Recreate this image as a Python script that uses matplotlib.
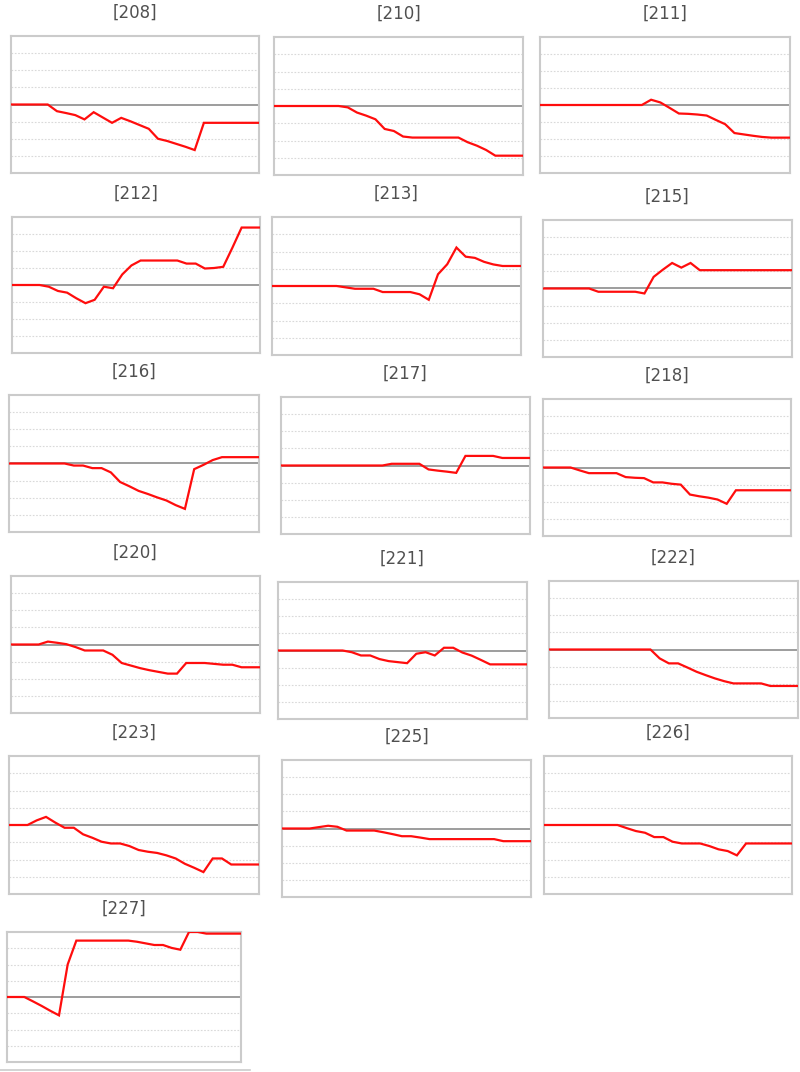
import matplotlib
matplotlib.use("Agg")
import matplotlib.pyplot as plt
from matplotlib.lines import Line2D

# ---------------- data ----------------
titles = ["[208]", "[210]", "[211]", "[212]", "[213]", "[215]", "[216]", "[217]",
          "[218]", "[220]", "[221]", "[222]", "[223]", "[225]", "[226]", "[227]"]

s208 = [0, 0, 0, 0, 0, -0.39, -0.5, -0.62, -0.87, -0.45, -0.76, -1.07, -0.78, -0.98,
        -1.2, -1.42, -2.0, -2.13, -2.3, -2.47, -2.66, -1.07, -1.07, -1.07, -1.07, -1.07, -1.07, -1.07]
s210 = [0, 0, 0, 0, 0, 0, 0, 0, -0.08, -0.38, -0.56, -0.77, -1.33, -1.45, -1.77, -1.83,
        -1.83, -1.83, -1.83, -1.83, -1.83, -2.1, -2.3, -2.55, -2.88, -2.88, -2.88, -2.88]
s211 = [0, 0, 0, 0, 0, 0, 0, 0, 0, 0, 0, 0, 0.31, 0.15, -0.17, -0.5, -0.52, -0.56,
        -0.62, -0.88, -1.13, -1.65, -1.73, -1.81, -1.88, -1.92, -1.92, -1.92]
s212 = [0, 0, 0, 0, -0.1, -0.35, -0.45, -0.78, -1.07, -0.87, -0.1, -0.19, 0.62, 1.15,
        1.44, 1.44, 1.44, 1.44, 1.44, 1.26, 1.26, 0.97, 1.0, 1.07, 2.2, 3.38, 3.38, 3.38]
s213 = [0, 0, 0, 0, 0, 0, 0, 0, -0.08, -0.16, -0.16, -0.16, -0.35, -0.35, -0.35, -0.35,
        -0.48, -0.8, 0.68, 1.26, 2.23, 1.7, 1.63, 1.4, 1.25, 1.16, 1.16, 1.16]
s215 = [0, 0, 0, 0, 0, 0, -0.19, -0.19, -0.19, -0.19, -0.19, -0.29, 0.68, 1.1, 1.49,
        1.22, 1.49, 1.07, 1.07, 1.07, 1.07, 1.07, 1.07, 1.07, 1.07, 1.07, 1.07, 1.07]
s216 = [0, 0, 0, 0, 0, 0, 0, -0.12, -0.12, -0.27, -0.27, -0.52, -1.08, -1.33, -1.6,
        -1.78, -1.98, -2.16, -2.43, -2.65, -0.33, -0.08, 0.2, 0.37, 0.37, 0.37, 0.37, 0.37]
s217 = [0, 0, 0, 0, 0, 0, 0, 0, 0, 0, 0, 0, 0.1, 0.1, 0.1, 0.1, -0.23, -0.3, -0.36,
        -0.43, 0.56, 0.56, 0.56, 0.56, 0.44, 0.44, 0.44, 0.44]
s218 = [0, 0, 0, 0, -0.17, -0.33, -0.33, -0.33, -0.33, -0.56, -0.6, -0.62, -0.87, -0.87,
        -0.95, -1.0, -1.58, -1.68, -1.76, -1.87, -2.12, -1.33, -1.33, -1.33, -1.33, -1.33, -1.33, -1.33]
s220 = [0, 0, 0, 0, 0.17, 0.1, 0.02, -0.15, -0.35, -0.35, -0.35, -0.6, -1.08, -1.23,
        -1.38, -1.5, -1.6, -1.7, -1.7, -1.08, -1.08, -1.08, -1.13, -1.18, -1.18, -1.33, -1.33, -1.33]
s221 = [0, 0, 0, 0, 0, 0, 0, 0, -0.1, -0.29, -0.29, -0.5, -0.62, -0.68, -0.74, -0.19,
        -0.1, -0.29, 0.16, 0.16, -0.12, -0.3, -0.55, -0.81, -0.81, -0.81, -0.81, -0.81]
s222 = [0, 0, 0, 0, 0, 0, 0, 0, 0, 0, 0, 0, -0.52, -0.81, -0.81, -1.05, -1.3, -1.5,
        -1.69, -1.85, -1.98, -1.98, -1.98, -1.98, -2.13, -2.13, -2.13, -2.13]
s223 = [0, 0, 0, 0.27, 0.47, 0.14, -0.16, -0.16, -0.54, -0.74, -0.97, -1.07, -1.07,
        -1.22, -1.45, -1.55, -1.62, -1.76, -1.94, -2.25, -2.48, -2.73, -1.94, -1.94, -2.29, -2.29, -2.29, -2.29]
s225 = [0, 0, 0, 0, 0.08, 0.16, 0.1, -0.12, -0.12, -0.12, -0.12, -0.22, -0.33, -0.45,
        -0.45, -0.53, -0.62, -0.62, -0.62, -0.62, -0.62, -0.62, -0.62, -0.62, -0.74, -0.74, -0.74, -0.74]
s226 = [0, 0, 0, 0, 0, 0, 0, 0, 0, -0.18, -0.35, -0.45, -0.7, -0.7, -0.97, -1.07, -1.07,
        -1.07, -1.22, -1.41, -1.51, -1.76, -1.07, -1.07, -1.07, -1.07, -1.07, -1.07]
s227 = [0, 0, 0, -0.27, -0.55, -0.85, -1.13, 2.0, 3.47, 3.47, 3.47, 3.47, 3.47, 3.47,
        3.47, 3.4, 3.3, 3.2, 3.2, 3.02, 2.91, 4.0, 4.0, 3.9, 3.9, 3.9, 3.9, 3.9]

series = [s208, s210, s211, s212, s213, s215, s216, s217,
          s218, s220, s221, s222, s223, s225, s226, s227]

y_grid = [-3, -2, -1, 1, 2, 3]

# ---------------- layout (pixel boxes: left, top, right, bottom) ----------------
W, H = 800, 1072
boxes = [
    (11, 36, 259, 173), (274, 37, 523, 175), (540, 37, 790, 173),
    (12, 217, 260, 353), (272, 217, 521, 355), (543, 220, 792, 357),
    (9, 395, 259, 532), (281, 397, 530, 534), (543, 399, 791, 536),
    (11, 576, 260, 713), (278, 582, 527, 719), (549, 581, 798, 718),
    (9, 756, 259, 894), (282, 760, 531, 897), (544, 756, 792, 894),
    (7, 932, 241, 1062),
]

fig = plt.figure(figsize=(W / 100, H / 100), dpi=100)
fig.patch.set_facecolor("white")

for title, vals, (l, t, r, b) in zip(titles, series, boxes):
    ax = fig.add_axes([l / W, 1 - b / H, (r - l) / W, (b - t) / H])
    xs = list(range(len(vals)))
    ax.set_xlim(0, len(vals) - 1)
    ax.set_ylim(-4, 4)
    for g in y_grid:
        ax.axhline(g, color="#d9d9d9", lw=0.8, ls=(0, (1.5, 1.5)), zorder=1)
    ax.axhline(0, color="#8c8c8c", lw=1.2, zorder=2)
    ax.plot(xs, vals, color="#ff0d0d", lw=1.6, zorder=3, solid_joinstyle="miter")
    ax.set_xticks([])
    ax.set_yticks([])
    for sp in ax.spines.values():
        sp.set_color("#cbcbcb")
        sp.set_linewidth(1.5)
    cx = (l + r) / 2 / W
    ty = 1 - (t - 23) / H
    fig.text(cx, ty, title, ha="center", va="center", fontsize=12,
             color="#505050", family="DejaVu Sans")

# bottom separator line
fig.add_artist(Line2D([0, 250 / W], [1 - 1070 / H, 1 - 1070 / H],
                      color="#cccccc", lw=1.2, transform=fig.transFigure))

fig.savefig("out.png", dpi=100, facecolor="white")
